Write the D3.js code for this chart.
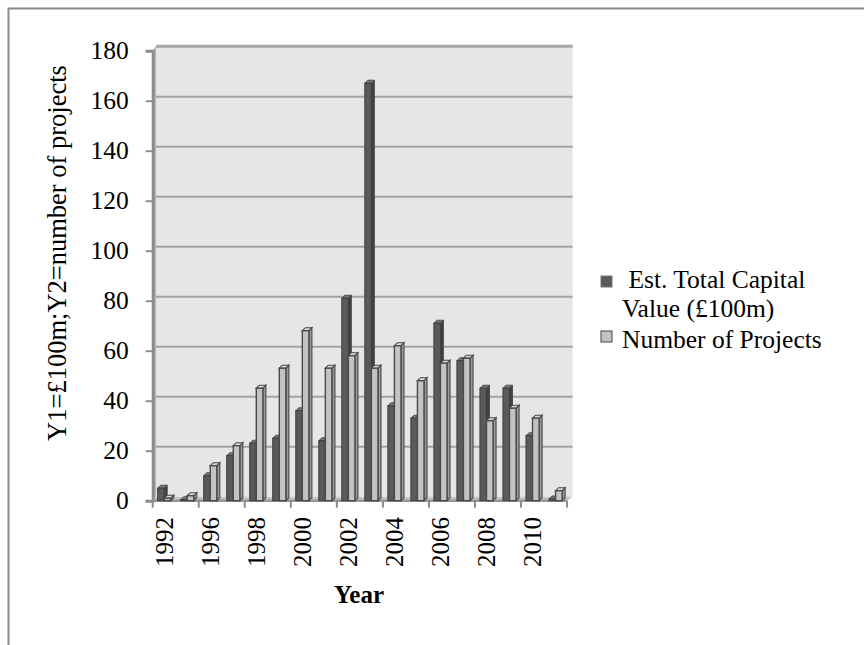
<!DOCTYPE html>
<html>
<head>
<meta charset="utf-8">
<script src="https://cdn.jsdelivr.net/npm/d3@7"></script>
<style>
  html, body { margin: 0; padding: 0; background: #fff; }
  svg { display: block; }
  text { font-family: "Liberation Serif", "Times New Roman", serif; fill: #000; }
</style>
</head>
<body>
<svg id="chart" width="864" height="645"></svg>
<script>
// ---- data ----
const years = ["1992","1995","1996","1997","1998","1999","2000","2001","2002","2003",
               "2004","2005","2006","2007","2008","2009","2010","2011"];
const capitalValue = [5, 0.4, 10, 18, 23, 25, 36, 24, 81, 167, 38, 33, 71, 56, 45, 45, 26, 0.7];
const numProjects  = [1, 2, 14, 22, 45, 53, 68, 53, 58, 53, 62, 48, 55, 57, 32, 37, 33, 4];
const xTickLabels  = ["1992","1996","1998","2000","2002","2004","2006","2008","2010"];
const yTicks = [0, 20, 40, 60, 80, 100, 120, 140, 160, 180];
const seriesNames = [" Est. Total Capital|Value (£100m)", "Number of Projects"];

const svg = d3.select("#chart");

// outer frame
svg.append("rect").attr("x", 8.5).attr("y", 8.5).attr("width", 900).attr("height", 700)
  .attr("fill", "none").attr("stroke", "#8a8a8a").attr("stroke-width", 2);

const left = 152.7, right = 152.7 + 18 * 23.02;
const x0 = d3.scaleBand().domain(years).range([left, right]).paddingInner(0.43).paddingOuter(0.215);
const x1 = d3.scaleBand().domain(["cap", "num"]).range([0, x0.bandwidth()]);
const y = d3.scaleLinear().domain([0, 180]).range([500.7, 50.7]);
const step = x0.step();
const off = (step - x0.bandwidth()) / 2;
const bdx = 3.4, bdy = -4;  // back-wall offset
const depthX = 3, depthY = -3; // bar depth

// back wall
const wallL = left + bdx, wallR = right + 5.5, wallT = y(180) + bdy - 1, wallB = y(0) + bdy;
svg.append("rect").attr("x", wallL).attr("y", wallT).attr("width", wallR - wallL).attr("height", wallB - wallT)
  .attr("fill", "#e6e6e6");
// left side wall
svg.append("polygon")
  .attr("points", [[left, y(180)], [wallL, wallT], [wallL, wallB], [left, y(0)]].map(p => p.join(",")).join(" "))
  .attr("fill", "#b5b5b5");
// floor
svg.append("polygon")
  .attr("points", [[left, y(0)], [wallL, wallB], [wallR, wallB], [right, y(0)]].map(p => p.join(",")).join(" "))
  .attr("fill", "#c6c6c6");

// gridlines on back wall
svg.append("g").selectAll("line").data(yTicks.filter(v => v > 0)).join("line")
  .attr("x1", wallL).attr("x2", wallR)
  .attr("y1", d => y(d) + bdy).attr("y2", d => y(d) + bdy)
  .attr("stroke", "#a3a3a3").attr("stroke-width", 2);
// wall top edge
svg.append("line").attr("x1", wallL).attr("x2", wallR).attr("y1", wallT).attr("y2", wallT)
  .attr("stroke", "#a8a8a8").attr("stroke-width", 2);

// y axis
const yAxis = svg.append("g").attr("transform", `translate(${left},0)`)
  .call(d3.axisLeft(y).tickValues(yTicks).tickSize(7).tickPadding(17));
yAxis.select(".domain").attr("stroke", "#8c8c8c").attr("stroke-width", 3);
yAxis.selectAll(".tick line").attr("stroke", "#8c8c8c").attr("stroke-width", 2);
yAxis.selectAll(".tick text").attr("font-size", 25.5).attr("font-family", "Liberation Serif").attr("fill", "#000");

// x axis base line
svg.append("line").attr("x1", left).attr("x2", right).attr("y1", y(0)).attr("y2", y(0))
  .attr("stroke", "#969696").attr("stroke-width", 2.5);

// x ticks every second category boundary
const tickIdx = d3.range(0, years.length + 1, 2);
svg.append("g").selectAll("line").data(tickIdx).join("line")
  .attr("x1", i => i < years.length ? x0(years[i]) - off : x0(years[years.length - 1]) - off + step)
  .attr("x2", i => i < years.length ? x0(years[i]) - off : x0(years[years.length - 1]) - off + step)
  .attr("y1", y(0)).attr("y2", y(0) + 7)
  .attr("stroke", "#8c8c8c").attr("stroke-width", 2);

// x labels
svg.append("g").selectAll("text").data(xTickLabels).join("text")
  .attr("transform", d => `translate(${x0(d) + x0.bandwidth() / 2},517) rotate(-90)`)
  .attr("text-anchor", "end").attr("dominant-baseline", "central")
  .attr("font-size", 25).text(d => d);

// bars (3D-ish prisms)
const styles = {
  cap: { front: "#5a5a5a", side: "#424242", top: "#777", stroke: "#3e3e3e", sw: 1 },
  num: { front: "#c3c3c3", side: "#9a9a9a", top: "#dadada", stroke: "#4a4a4a", sw: 1.4 }
};
const barG = svg.append("g");
years.forEach((yr, i) => {
  [["cap", capitalValue[i]], ["num", numProjects[i]]].forEach(([k, v]) => {
    const s = styles[k];
    const bx = x0(yr) + x1(k), bw = x1.bandwidth();
    const top = y(v), bot = y(0);
    const g = barG.append("g");
    g.append("polygon").attr("points", [[bx + bw, bot], [bx + bw, top], [bx + bw + depthX, top + depthY], [bx + bw + depthX, bot + depthY]].map(p => p.join(",")).join(" "))
      .attr("fill", s.side).attr("stroke", s.stroke).attr("stroke-width", s.sw * 0.8);
    g.append("polygon").attr("points", [[bx, top], [bx + depthX, top + depthY], [bx + bw + depthX, top + depthY], [bx + bw, top]].map(p => p.join(",")).join(" "))
      .attr("fill", s.top).attr("stroke", s.stroke).attr("stroke-width", s.sw * 0.8);
    g.append("rect").attr("x", bx).attr("y", top).attr("width", bw).attr("height", bot - top)
      .attr("fill", s.front).attr("stroke", s.stroke).attr("stroke-width", s.sw);
  });
});

// axis titles
svg.append("text").attr("transform", "translate(57,253) rotate(-90)")
  .attr("text-anchor", "middle").attr("dominant-baseline", "central")
  .attr("font-size", 26.5).text("Y1=£100m;Y2=number of projects");
svg.append("text").attr("x", 359).attr("y", 603).attr("text-anchor", "middle")
  .attr("font-size", 25).attr("font-weight", "bold").text("Year");

// legend
const legend = svg.append("g");
const legendItems = [
  { key: "cap", lines: seriesNames[0].split("|"), boxY: 276, baseY: 288 },
  { key: "num", lines: seriesNames[1].split("|"), boxY: 331, baseY: 347.5 }
];
legendItems.forEach(it => {
  const s = styles[it.key];
  legend.append("rect").attr("x", 601).attr("y", it.boxY).attr("width", 11).attr("height", 11)
    .attr("fill", s.front).attr("stroke", it.key === "cap" ? "#777" : "#444").attr("stroke-width", 1);
  it.lines.forEach((ln, j) => {
    legend.append("text").attr("x", 622).attr("y", it.baseY + j * 29)
      .attr("font-size", 25.5).attr("xml:space", "preserve").style("white-space", "pre").text(ln);
  });
});
</script>
</body>
</html>
